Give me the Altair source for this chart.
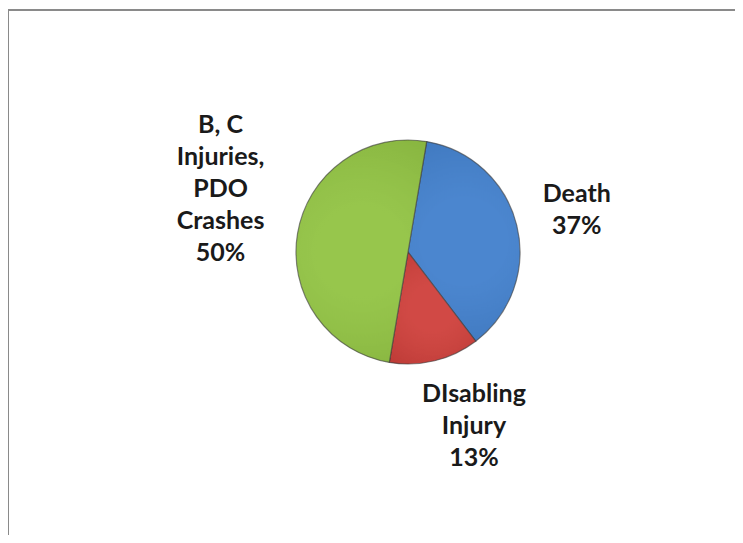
import math
import altair as alt
import pandas as pd

# ---- data ----
categories = ["Death", "DIsabling Injury", "B, C Injuries, PDO Crashes"]
label_lines = ["Death", "DIsabling\nInjury", "B, C\nInjuries,\nPDO\nCrashes"]
percent = [37, 13, 50]
slice_order = [0, 1, 2]
colors = ["#3C7CCB", "#CD3A35", "#8EC13D"]

df = pd.DataFrame({
    "category": categories,
    "label": label_lines,
    "value": percent,
    "ord": slice_order,
})

start = math.radians(9.6)
theta_range = [start, start + 2 * math.pi]
color = alt.Color("category:N", sort=categories,
                  scale=alt.Scale(domain=categories, range=colors), legend=None)

CX, CY, R = 398, 242, 112

pie_base = alt.Chart(df).encode(
    theta=alt.Theta("value:Q", stack=True, scale=alt.Scale(range=theta_range)),
    color=color, order=alt.Order("ord:Q"),
    x=alt.value(CX), y=alt.value(CY))

pie = pie_base.mark_arc(outerRadius=R, stroke="#333333", strokeOpacity=0.6,
                        strokeWidth=1.2)

shade = pie_base.mark_arc(
    outerRadius=R,
    fill=alt.RadialGradient(
        gradient="radial", x1=0.5, y1=0.5, x2=0.5, y2=0.5, r1=0.2, r2=0.75,
        stops=[alt.GradientStop(color="rgba(255,255,255,0.08)", offset=0),
               alt.GradientStop(color="rgba(0,0,0,0.12)", offset=1)]),
).encode(color=alt.value(None))

# label positions: mid-angle of each slice computed over the full data
text_base = alt.Chart(df).transform_joinaggregate(
    total="sum(value)"
).transform_window(
    cum="sum(value)", sort=[alt.SortField("ord")], frame=[None, 0]
).transform_calculate(
    mid="(datum.cum - datum.value / 2) / datum.total",
    txt="datum.label + '\\n' + datum.value + '%'",
)

def label_layer(cat, dx, dy):
    return text_base.transform_filter(alt.datum.category == cat).mark_text(
        radius=180, dx=dx, dy=dy, font="Lato", fontWeight="bold",
        fontSize=25, lineHeight=32, lineBreak="\n", align="center",
        baseline="middle", color="#1a1a1a",
    ).encode(
        theta=alt.Theta("mid:Q", scale=alt.Scale(domain=[0, 1], range=theta_range)),
        text="txt:N",
        x=alt.value(CX), y=alt.value(CY),
    )

labels = alt.layer(
    label_layer(categories[0], -6, -15),
    label_layer(categories[1], 23, -33),
    label_layer(categories[2], -10, -97),
)

frame_data = alt.Data(values=[{"a": 1}])
top_rule = alt.Chart(frame_data).mark_rule(color="#8a8a8a", strokeWidth=2).encode(
    x=alt.value(-2), x2=alt.value(735), y=alt.value(0))
left_rule = alt.Chart(frame_data).mark_rule(color="#8a8a8a", strokeWidth=2).encode(
    x=alt.value(-2), y=alt.value(0), y2=alt.value(535))

chart = alt.layer(top_rule, left_rule, pie, shade, labels).resolve_scale(
    theta="independent"
).properties(
    width=725, height=525,
    autosize=alt.AutoSizeParams(type="none"),
    padding={"left": 2, "top": 2, "right": 0, "bottom": 0},
    background="white",
).configure_view(stroke=None)

chart.save("out.html", embed_options={"renderer": "svg", "actions": False})
